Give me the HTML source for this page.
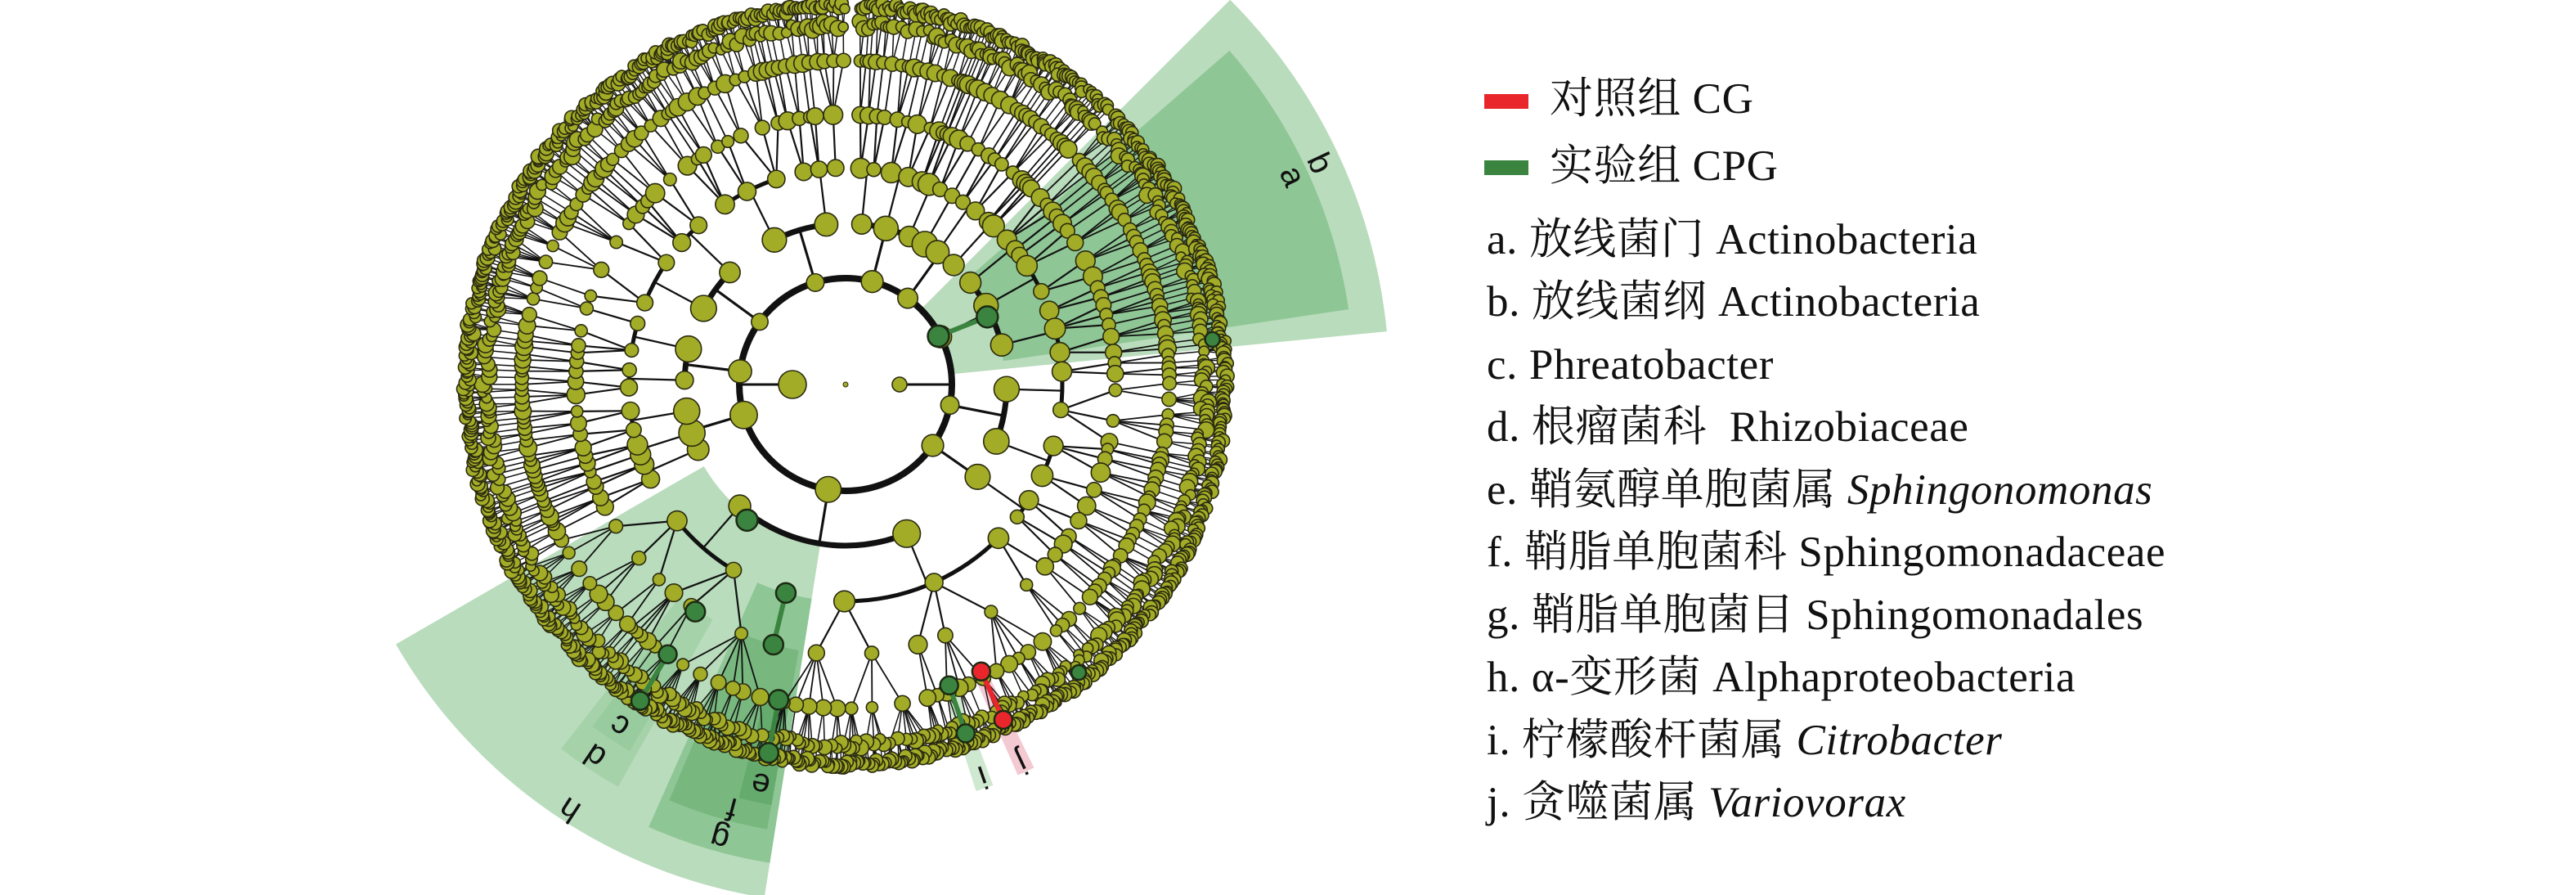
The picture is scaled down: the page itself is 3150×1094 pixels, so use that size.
<!DOCTYPE html>
<html><head><meta charset="utf-8">
<style>
html,body{margin:0;padding:0;background:#fff;}
body{width:3150px;height:1094px;overflow:hidden;position:relative;}
svg{position:absolute;left:0;top:0;}
.leg{position:absolute;left:1818px;font-family:"Liberation Serif","Noto Serif CJK SC",serif;font-size:53px;letter-spacing:0.6px;color:#111;white-space:pre;line-height:1;}
.sw{position:absolute;left:1815px;width:54px;height:18px;}
</style></head>
<body>
<svg id="s" width="3150" height="1094" viewBox="0 0 3150 1094"></svg>
<div class="sw" style="top:115px;background:#e8262b"></div>
<div class="sw" style="top:196px;background:#3a8440"></div>
<div class="leg" style="left:1895px;top:95px">对照组 CG</div>
<div class="leg" style="left:1895px;top:177px">实验组 CPG</div>
<div class="leg" style="top:267px">a. 放线菌门 Actinobacteria</div>
<div class="leg" style="top:343px">b. 放线菌纲 Actinobacteria</div>
<div class="leg" style="top:420px">c. Phreatobacter</div>
<div class="leg" style="top:496px">d. 根瘤菌科  Rhizobiaceae</div>
<div class="leg" style="top:573px">e. 鞘氨醇单胞菌属 <i>Sphingonomonas</i></div>
<div class="leg" style="top:649px">f. 鞘脂单胞菌科 Sphingomonadaceae</div>
<div class="leg" style="top:726px">g. 鞘脂单胞菌目 Sphingomonadales</div>
<div class="leg" style="top:802px">h. α-变形菌 Alphaproteobacteria</div>
<div class="leg" style="top:879px">i. 柠檬酸杆菌属 <i>Citrobacter</i></div>
<div class="leg" style="top:955px">j. 贪噬菌属 <i>Variovorax</i></div>
<script>
(function(){
var NS="http://www.w3.org/2000/svg",S=document.getElementById("s");
var cx=1034,cy=470;
function el(t,a,p){var e=document.createElementNS(NS,t);for(var k in a)e.setAttribute(k,a[k]);(p||S).appendChild(e);return e;}
function P(r,a){var t=a*Math.PI/180;return [cx+r*Math.cos(t),cy+r*Math.sin(t)];}
var seed=777;function rnd(){seed|=0;seed=seed+0x6D2B79F5|0;var t=Math.imul(seed^seed>>>15,1|seed);t=t+Math.imul(t^t>>>7,61|t)^t;return((t^t>>>14)>>>0)/4294967296;}
function wedge(r0,r1,a0,a1,fill){var p1=P(r1,a0),p2=P(r1,a1),p3=P(r0,a1),p4=P(r0,a0);var lg=(a1-a0)>180?1:0;
el("path",{d:"M"+p1+" A"+r1+" "+r1+" 0 "+lg+" 1 "+p2+" L"+p3+" A"+r0+" "+r0+" 0 "+lg+" 0 "+p4+"Z",fill:fill});}
function arc(r,a0,a1,w,c){var p1=P(r,a0),p2=P(r,a1);var lg=(a1-a0)>180?1:0;el("path",{d:"M"+p1+" A"+r+" "+r+" 0 "+lg+" 1 "+p2,fill:"none",stroke:c||"#111",'stroke-width':w});}
function line(p,q,w,c){el("line",{x1:p[0],y1:p[1],x2:q[0],y2:q[1],stroke:c||"#111",'stroke-width':w});}
var L="#b9dcbc",M="#8fc695",D="#78b87f",E="#66ab6e";
wedge(130,665,-45,-5.6,L);
wedge(195,622,-41,-8.5,M);
wedge(200,635,99,150,L);
wedge(330,565,119.5,128,"#a6d2aa");
wedge(395,520,120.5,126.5,"#98cb9e");
wedge(265,592,99,114,M);
wedge(330,552,100,113,D);
wedge(394,522,100,104.5,E);
wedge(390,522,69.8,72.2,"#cfe8d0");
wedge(388,522,63.8,66.2,"#f3c9d2");
var LV=8;
var R=[0,65,130,197,265,330,396,440,463];
var W=[0,5,8,7,5,2.2,1.8,1.5,1.3];
function build(l,a0,a1){var n={l:l,c:[]};if(l==LV){n.a=(a0+a1)/2;n.r=R[LV]-4+rnd()*9;return n;}
var span=a1-a0,rem=LV-l;var k;
if(l==LV-1){k=Math.max(1,Math.round(span/0.42));}
else if(l==LV-2){k=Math.max(1,Math.round(span/0.8*(0.6+rnd()*0.8)));k=Math.min(k,8);}
else{k=Math.round(Math.pow(span/0.8,1/(rem-1))*(0.7+rnd()*0.8));k=Math.max(1,Math.min(k,9));}
var ws=[],tot=0;for(var i=0;i<k;i++){var w=0.3+Math.pow(rnd(),1.4);ws.push(w);tot+=w;}
var a=a0;for(i=0;i<k;i++){var b=a+span*ws[i]/tot;n.c.push(build(l+1,a,b));a=b;}
n.a=(n.c[0].a+n.c[n.c.length-1].a)/2;n.r=(l==LV-1)?R[l]-5+rnd()*10:R[l];return n;}
var phy=[[-88,-62],[-62,-46],[-45,-6],[-6,28],[28,40],[40,152],[152,176],[176,198],[198,232],[232,270]];
var bac={l:1,c:[],a:180,r:65};phy.forEach(function(s){bac.c.push(build(2,s[0],s[1]));});
function draw(n){if(!n.c.length)return;var cl=n.l+1;
if(cl<=4){var f=n.c[0].a,g=n.c[n.c.length-1].a;if(n.c.length>1)arc(R[cl],f,g,W[cl]);line(P(n.r,n.a),P(R[cl],n.a),Math.max(1.6,W[cl]*0.45));}
else{n.c.forEach(function(c){line(P(n.r,n.a),P(c.r,c.a),W[cl]);});}
n.c.forEach(draw);}
el("circle",{cx:cx,cy:cy,r:130,fill:"none",stroke:"#111",'stroke-width':8});
line(P(65,180),P(130,180),3);line(P(65,0),P(130,0),3);
bac.c.forEach(draw);
var nodes=[];function collect(n){nodes.push(n);n.c.forEach(collect);}bac.c.forEach(collect);
nodes.sort(function(a,b){return a.l-b.l;});
var NR={2:[10,7],3:[10,7],4:[8,6],5:[7,5],6:[7,4],7:[6,4],8:[6,3]};
nodes.forEach(function(n){var p=P(n.r,n.a);var s=NR[n.l];el("circle",{cx:p[0],cy:p[1],r:s[0]+rnd()*s[1],fill:"#a2ac27",stroke:"#2a2a10",'stroke-width':1.6});});
el("circle",{cx:P(65,180)[0],cy:cy,r:17,fill:"#a2ac27",stroke:"#2a2a10",'stroke-width':1.6});
el("circle",{cx:P(66,0)[0],cy:cy,r:9,fill:"#a2ac27",stroke:"#2a2a10",'stroke-width':1.6});
el("circle",{cx:cx,cy:cy,r:3,fill:"#a2ac27",stroke:"#2a2a10",'stroke-width':1});
var G="#3a8440",Rd="#e8262b";
function hl(pts,c){for(var i=0;i<pts.length-1;i++)line(P(pts[i][0],pts[i][1]),P(pts[i+1][0],pts[i+1][1]),6,c);
pts.forEach(function(q){var p=P(q[0],q[1]);el("circle",{cx:p[0],cy:p[1],r:q[2],fill:c,stroke:"#1c2a14",'stroke-width':2.5});});}
hl([[128,-27.5,13],[192,-25.5,13]],G);
hl([[452,-7,9]],G);
hl([[205,126,13]],G);
hl([[265,106,12],[330,105.5,12]],G);
hl([[394,102,12],[460,101.8,12]],G);
hl([[333,123.5,12]],G);
hl([[395,123.4,11],[461,123,11]],G);
hl([[389,71,11],[451,71,11]],G);
hl([[388,64.7,11],[453,64.8,11]],Rd);
hl([[453,51,9]],G);
function lab(t,r,a){var p=P(r,a);el("text",{x:p[0],y:p[1],'font-family':"Liberation Sans, sans-serif",'font-size':40,fill:"#111",'text-anchor':"middle",'dominant-baseline':"central",transform:"rotate("+(a+90)+" "+p[0]+" "+p[1]+")"}).textContent=t;}
lab("b",640,-25);lab("a",603,-25);lab("h",620,123);lab("g",576,105.5);lab("f",537,105);lab("e",500,102);
lab("c",501,123.5);lab("d",548,124);lab("i",508,70.7);lab("j",510,65);
})();
</script>
</body></html>
